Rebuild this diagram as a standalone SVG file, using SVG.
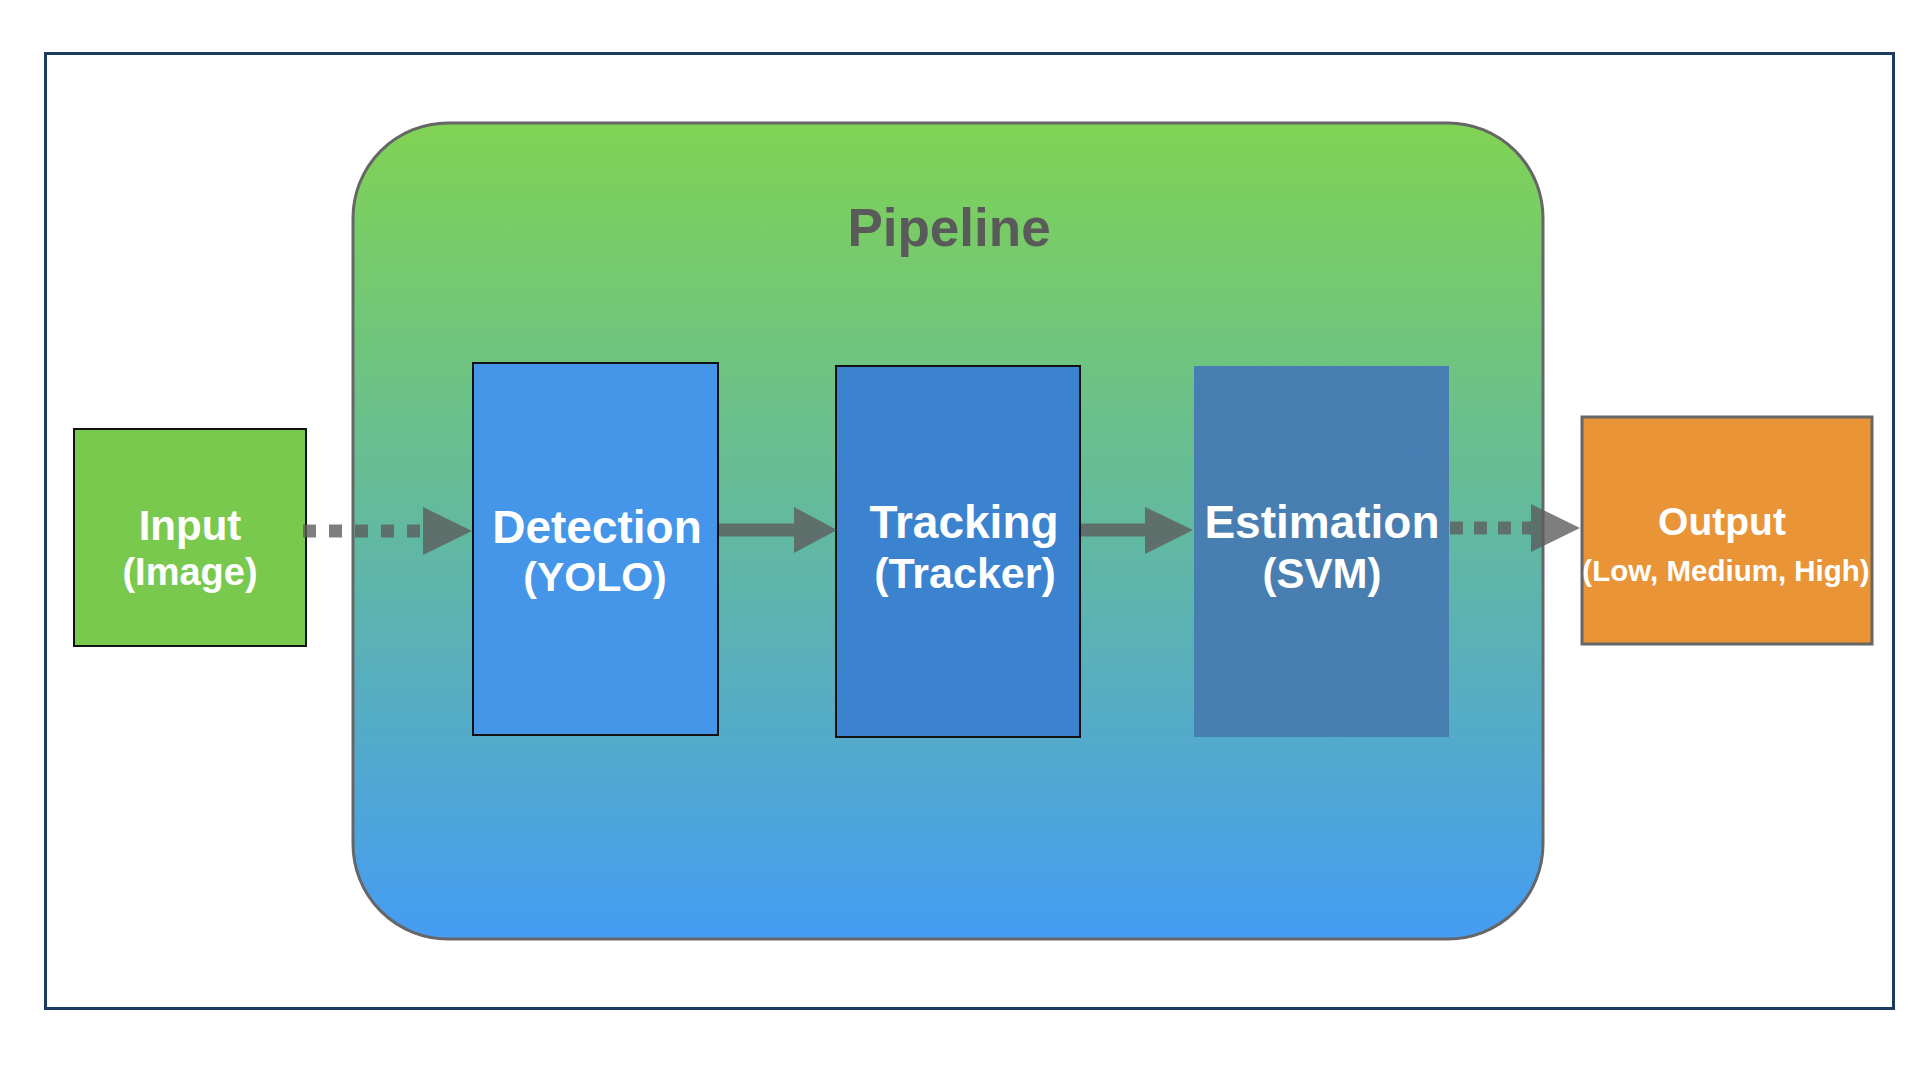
<svg xmlns="http://www.w3.org/2000/svg" width="1920" height="1080" viewBox="0 0 1920 1080">
  <style>
    .lbl { font-family: "Liberation Sans", Arial, Helvetica, sans-serif; font-weight: bold; fill: #ffffff; text-anchor: middle; }
    .title { font-family: "Liberation Sans", Arial, Helvetica, sans-serif; font-weight: bold; fill: #5a5a5a; text-anchor: middle; font-size: 53px; }
    .box { stroke: #111111; stroke-width: 2; }
    .conn { opacity: 0.8; }
    .conn line { stroke: #5e5e5e; stroke-width: 13; }
    .conn polygon { fill: #5e5e5e; }
    .dash { stroke-dasharray: 13 13; }
  </style>
  <defs>
    <linearGradient id="pipeGrad" x1="0" y1="0" x2="0" y2="1">
      <stop offset="0" stop-color="#80d353"/>
      <stop offset="0.5" stop-color="#62b9a0"/>
      <stop offset="1" stop-color="#459cf3"/>
    </linearGradient>
    <filter id="grain" x="0" y="0" width="100%" height="100%">
      <feTurbulence type="fractalNoise" baseFrequency="0.9" numOctaves="2" seed="3" result="n"/>
      <feColorMatrix in="n" type="matrix" values="0 0 0 0 0  0 0 0 0 0  0 0 0 0 0  0.12 0 0 0 0" result="a"/>
      <feComposite in="a" in2="SourceGraphic" operator="in" result="b"/>
      <feMerge><feMergeNode in="SourceGraphic"/><feMergeNode in="b"/></feMerge>
    </filter>
  </defs>

  <rect width="1920" height="1080" fill="#ffffff"/>

  <g id="frame">
    <rect x="45.5" y="53.5" width="1848" height="955" fill="none" stroke="#1d3a5f" stroke-width="3"/>
  </g>

  <g id="pipeline">
    <rect x="353" y="123" width="1190" height="816" rx="95" ry="95" fill="url(#pipeGrad)" stroke="#666666" stroke-width="3"/>
    <text class="title" x="949" y="246">Pipeline</text>
  </g>

  <g id="input">
    <rect class="box" x="74" y="429" width="232" height="217" fill="#7ac94f"/>
    <text class="lbl" x="190" y="540" font-size="42">Input</text>
    <text class="lbl" x="190" y="585" font-size="38">(Image)</text>
  </g>

  <g id="detection">
    <rect class="box" x="473" y="363" width="245" height="372" fill="#4595e8"/>
    <text class="lbl" x="597" y="543" font-size="46">Detection</text>
    <text class="lbl" x="595" y="591" font-size="41">(YOLO)</text>
  </g>

  <g id="tracking">
    <rect class="box" x="836" y="366" width="244" height="371" fill="#3b82cf"/>
    <text class="lbl" x="964" y="538" font-size="46">Tracking</text>
    <text class="lbl" x="965" y="588" font-size="43">(Tracker)</text>
  </g>

  <g id="estimation">
    <rect x="1194" y="366" width="255" height="371" fill="#4b82b6" filter="url(#grain)"/>
    <text class="lbl" x="1322" y="538" font-size="46">Estimation</text>
    <text class="lbl" x="1322" y="588" font-size="42">(SVM)</text>
  </g>

  <g id="output">
    <rect x="1582" y="417" width="290" height="227" fill="#e89437" stroke="#666666" stroke-width="3"/>
    <text class="lbl" x="1722" y="535" font-size="39">Output</text>
    <text class="lbl" x="1726" y="581" font-size="29.5">(Low, Medium, High)</text>
  </g>

  <g id="connectors">
    <g class="conn">
      <line class="dash" x1="303" y1="531" x2="421" y2="531"/>
      <polygon points="423,507 472,531 423,555"/>
    </g>
    <g class="conn">
      <line x1="719" y1="530" x2="794" y2="530"/>
      <polygon points="794,507 837,530 794,553"/>
    </g>
    <g class="conn">
      <line x1="1081" y1="530" x2="1145" y2="530"/>
      <polygon points="1145,507 1193,530 1145,554"/>
    </g>
    <g class="conn">
      <line x1="1450" y1="528" x2="1531" y2="528" style="stroke-dasharray: 13 11"/>
      <polygon points="1531,504 1580,528 1531,552"/>
    </g>
  </g>
</svg>
